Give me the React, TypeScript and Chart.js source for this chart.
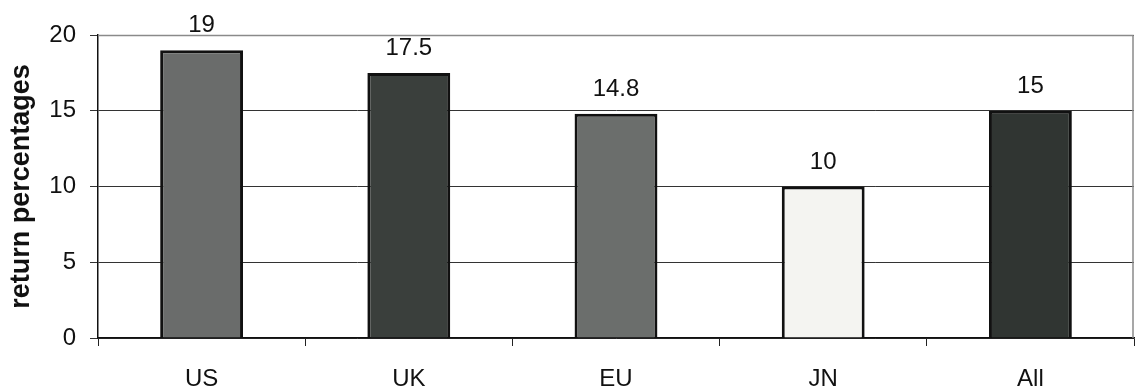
import React, { useEffect, useRef } from "react";
import { Chart, registerables } from "chart.js";

Chart.register(...registerables);

const regions = ["US", "UK", "EU", "JN", "All"];
const returnPct = [19, 17.5, 14.8, 10, 15];
const barFills = ["#6a6c6b", "#3a3f3c", "#6b6e6c", "#f4f4f1", "#303532"];
const yTicks = [0, 5, 10, 15, 20];

const FONT = "'Liberation Sans', Arial, sans-serif";

// Value labels above each bar, taken from the bar elements themselves.
const valueLabels = {
  id: "valueLabels",
  afterDatasetsDraw(chart: Chart) {
    const { ctx } = chart;
    const meta = chart.getDatasetMeta(0);
    const data = chart.data.datasets[0].data as number[];
    ctx.save();
    ctx.font = `24px ${FONT}`;
    ctx.fillStyle = "#111";
    ctx.textAlign = "center";
    ctx.textBaseline = "alphabetic";
    meta.data.forEach((el: any, i: number) => {
      ctx.fillText(String(data[i]), el.x, el.y - 18);
    });
    ctx.restore();
  },
};

// Thin frame on the top and right edges of the plot area.
const plotFrame = {
  id: "plotFrame",
  beforeDatasetsDraw(chart: Chart) {
    const { ctx, chartArea } = chart;
    ctx.save();
    ctx.strokeStyle = "#8a8a8a";
    ctx.lineWidth = 1.5;
    ctx.beginPath();
    ctx.moveTo(chartArea.left, chartArea.top + 0.5);
    ctx.lineTo(chartArea.right - 1, chartArea.top + 0.5);
    ctx.lineTo(chartArea.right - 1, chartArea.bottom);
    ctx.stroke();
    ctx.restore();
  },
};

export default function App() {
  const canvasRef = useRef<HTMLCanvasElement>(null);

  useEffect(() => {
    document.body.style.margin = "0";
    const canvas = canvasRef.current;
    if (!canvas) return;
    const chart = new Chart(canvas, {
      type: "bar",
      data: {
        labels: regions,
        datasets: [
          {
            data: returnPct,
            backgroundColor: barFills,
            borderColor: "#111",
            borderWidth: 3,
            barPercentage: 0.4,
            categoryPercentage: 1,
          },
        ],
      },
      options: {
        animation: false,
        responsive: false,
        maintainAspectRatio: false,
        layout: { padding: { top: 35, right: 2, left: 0, bottom: 0 } },
        plugins: {
          legend: { display: false },
          tooltip: { enabled: false },
        },
        scales: {
          x: {
            offset: true,
            grid: {
              offset: true,
              drawOnChartArea: false,
              drawTicks: true,
              tickLength: 8,
              color: "#222",
              lineWidth: 1,
            },
            border: { color: "#111", width: 1.5 },
            ticks: {
              color: "#111",
              font: { family: FONT, size: 24 },
              padding: 19,
            },
            afterFit(scale: any) {
              scale.height = 50;
            },
          },
          y: {
            min: 0,
            max: 20,
            afterBuildTicks(scale: any) {
              scale.ticks = yTicks.map((v) => ({ value: v }));
            },
            grid: {
              color: "#333",
              lineWidth: 1,
              tickLength: 8,
              drawTicks: true,
            },
            border: { color: "#111", width: 1.5 },
            ticks: {
              color: "#111",
              font: { family: FONT, size: 24 },
              padding: 14,
            },
            title: {
              display: true,
              text: "return percentages",
              color: "#111",
              font: { family: FONT, size: 27, weight: "bold" },
              padding: { top: 5, bottom: 4 },
            },
            afterFit(scale: any) {
              scale.width = 98;
            },
          },
        },
      },
      plugins: [plotFrame, valueLabels],
    });
    return () => chart.destroy();
  }, []);

  return (
    <div style={{ width: 1136, height: 388, background: "#fff" }}>
      <canvas ref={canvasRef} width={1136} height={388} style={{ display: "block" }} />
    </div>
  );
}
